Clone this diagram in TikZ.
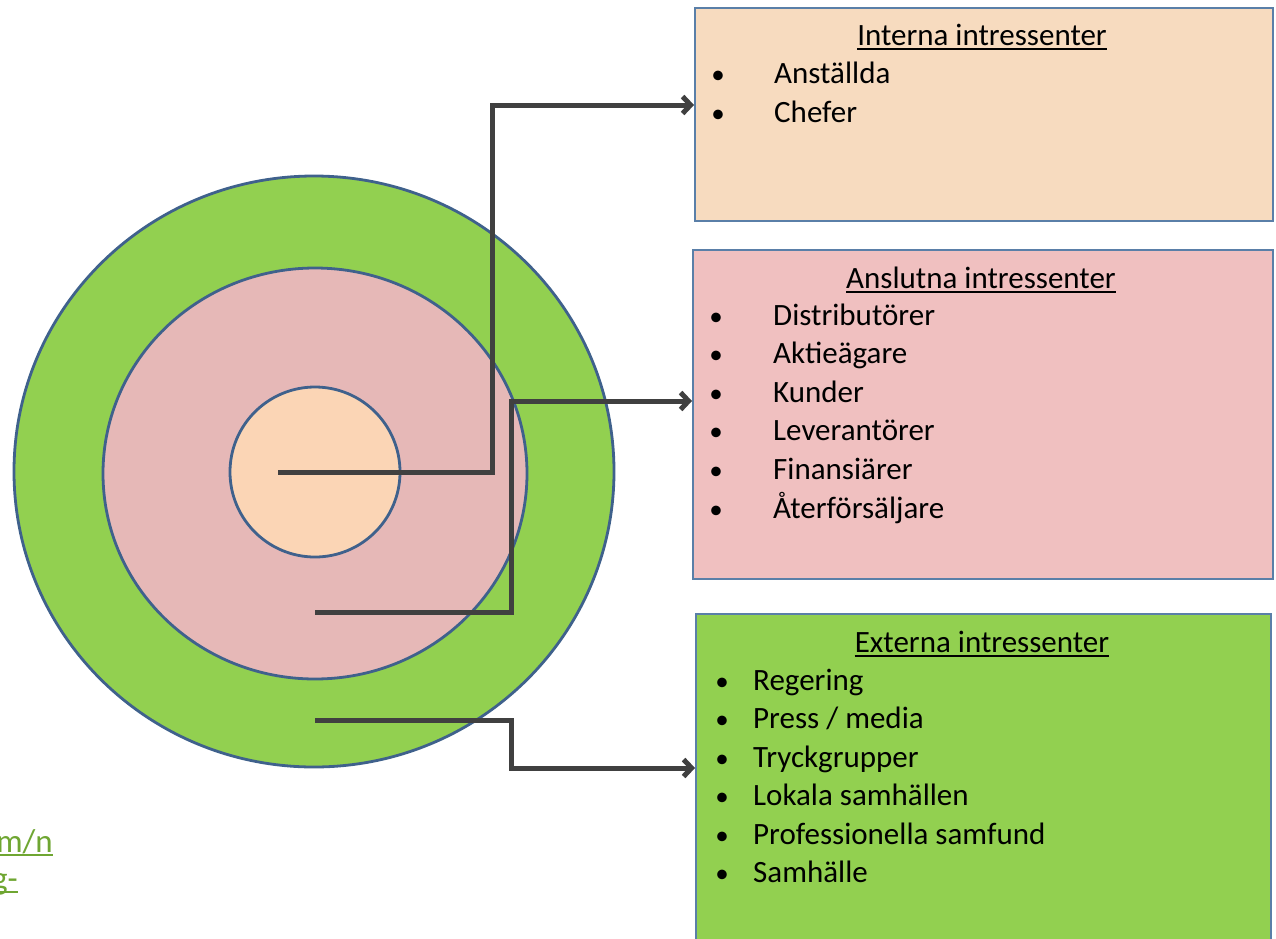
\documentclass[tikz,border=0pt]{standalone}
\usepackage{fontspec}
\setmainfont{Carlito}
\usetikzlibrary{arrows.meta}

\definecolor{ringline}{HTML}{3F618C}
\definecolor{boxline}{HTML}{5A7FA8}
\definecolor{outergreen}{HTML}{92D050}
\definecolor{midpink}{HTML}{E6B8B7}
\definecolor{innerpeach}{HTML}{FBD5B5}
\definecolor{boxpeach}{HTML}{F7DBBF}
\definecolor{boxpink}{HTML}{F0C0C0}
\definecolor{connline}{HTML}{404040}
\definecolor{linkgreen}{HTML}{6FA632}

\tikzset{
  ring/.style={draw=ringline, line width=2.8pt},
  infobox/.style={draw=boxline, line width=2pt, anchor=north west, inner sep=0pt},
  itemtext/.style={inner sep=0pt, font=\fontsize{31}{38}\selectfont, text=black},
  bulletmark/.style={inner sep=0pt, font=\fontsize{27}{38}\selectfont, text=black, anchor=base},
  titleline/.style={line width=2pt, draw=black},
  conn/.style={draw=connline, line width=5pt, line join=miter,
    -{Straight Barb[length=8pt,width=17pt]}},
  linktext/.style={inner sep=0pt, font=\fontsize{33}{38}\selectfont, text=linkgreen, anchor=base east},
}

\begin{document}
\begin{tikzpicture}[x=1pt,y=-1pt]
\useasboundingbox (0,0) rectangle (1276,938);
\fill[white] (0,0) rectangle (1276,938);

% concentric stakeholder rings
\draw[ring, fill=outergreen] (314,471.5) ellipse [x radius=300, y radius=295.5];
\draw[ring, fill=midpink] (315,473.5) ellipse [x radius=212, y radius=205.5];
\draw[ring, fill=innerpeach] (315,472) ellipse [x radius=85, y radius=85];

% boxes
\node[infobox, fill=boxpeach, minimum width=578pt, minimum height=213pt] (b1) at (694,7) {};
\node[infobox, fill=boxpink, minimum width=580pt, minimum height=329pt] (b2) at (692,249) {};
\node[infobox, fill=outergreen, minimum width=575pt, minimum height=345pt] (b3) at (695,613) {};

% internal stakeholders
\node[itemtext, anchor=base] (t1) at (982,45) {Interna intressenter};
\draw[titleline] ([yshift=-4pt]t1.base west) -- ([yshift=-4pt]t1.base east);
\node[bulletmark] (p11) at (718,83) {•};
\node[itemtext, anchor=base west] (i11) at (774,83) {Anställda};
\node[bulletmark] (p12) at (718,122) {•};
\node[itemtext, anchor=base west] (i12) at (774,122) {Chefer};

% connected stakeholders
\node[itemtext, anchor=base] (t2) at (981,288) {Anslutna intressenter};
\draw[titleline] ([yshift=-4pt]t2.base west) -- ([yshift=-4pt]t2.base east);
\node[bulletmark] (p21) at (716,325) {•};
\node[itemtext, anchor=base west] (i21) at (773,325) {Distributörer};
\node[bulletmark] (p22) at (716,363.6) {•};
\node[itemtext, anchor=base west] (i22) at (773,363.6) {Aktieägare};
\node[bulletmark] (p23) at (716,402.2) {•};
\node[itemtext, anchor=base west] (i23) at (773,402.2) {Kunder};
\node[bulletmark] (p24) at (716,440.8) {•};
\node[itemtext, anchor=base west] (i24) at (773,440.8) {Leverantörer};
\node[bulletmark] (p25) at (716,479.4) {•};
\node[itemtext, anchor=base west] (i25) at (773,479.4) {Finansiärer};
\node[bulletmark] (p26) at (716,518) {•};
\node[itemtext, anchor=base west] (i26) at (773,518) {Återförsäljare};

% external stakeholders
\node[itemtext, anchor=base] (t3) at (982,652) {Externa intressenter};
\draw[titleline] ([yshift=-4pt]t3.base west) -- ([yshift=-4pt]t3.base east);
\node[bulletmark] (p31) at (722,690) {•};
\node[itemtext, anchor=base west] (i31) at (753,690) {Regering};
\node[bulletmark] (p32) at (722,728.5) {•};
\node[itemtext, anchor=base west] (i32) at (753,728.5) {Press / media};
\node[bulletmark] (p33) at (722,767) {•};
\node[itemtext, anchor=base west] (i33) at (753,767) {Tryckgrupper};
\node[bulletmark] (p34) at (722,805.5) {•};
\node[itemtext, anchor=base west] (i34) at (753,805.5) {Lokala samhällen};
\node[bulletmark] (p35) at (722,844) {•};
\node[itemtext, anchor=base west] (i35) at (753,844) {Professionella samfund};
\node[bulletmark] (p36) at (722,882.5) {•};
\node[itemtext, anchor=base west] (i36) at (753,882.5) {Samhälle};

% connectors from the rings to the boxes
\coordinate (s1) at (278,472);
\coordinate (k1) at (492,105);
\coordinate (s2) at (315,612);
\coordinate (k2) at (511,401);
\coordinate (s3) at (315,720);
\coordinate (k3) at (511,768);
\draw[conn] (s1) -| (k1) -- (b1.west |- k1);
\draw[conn] (s2) -| (k2) -- (b2.west |- k2);
\draw[conn] (s3) -| (k3) -- (b3.west |- k3);

% link fragments running off the left edge
\node[linktext] (l1) at (53,852) {com/n};
\draw[linkgreen, line width=1.5pt] ([yshift=-3pt]l1.base west) -- ([yshift=-3pt]l1.base east);
\node[linktext] (l2) at (18,889) {g-};
\draw[linkgreen, line width=1.5pt] ([yshift=-3pt]l2.base west) -- ([yshift=-3pt]l2.base east);
\end{tikzpicture}
\end{document}
